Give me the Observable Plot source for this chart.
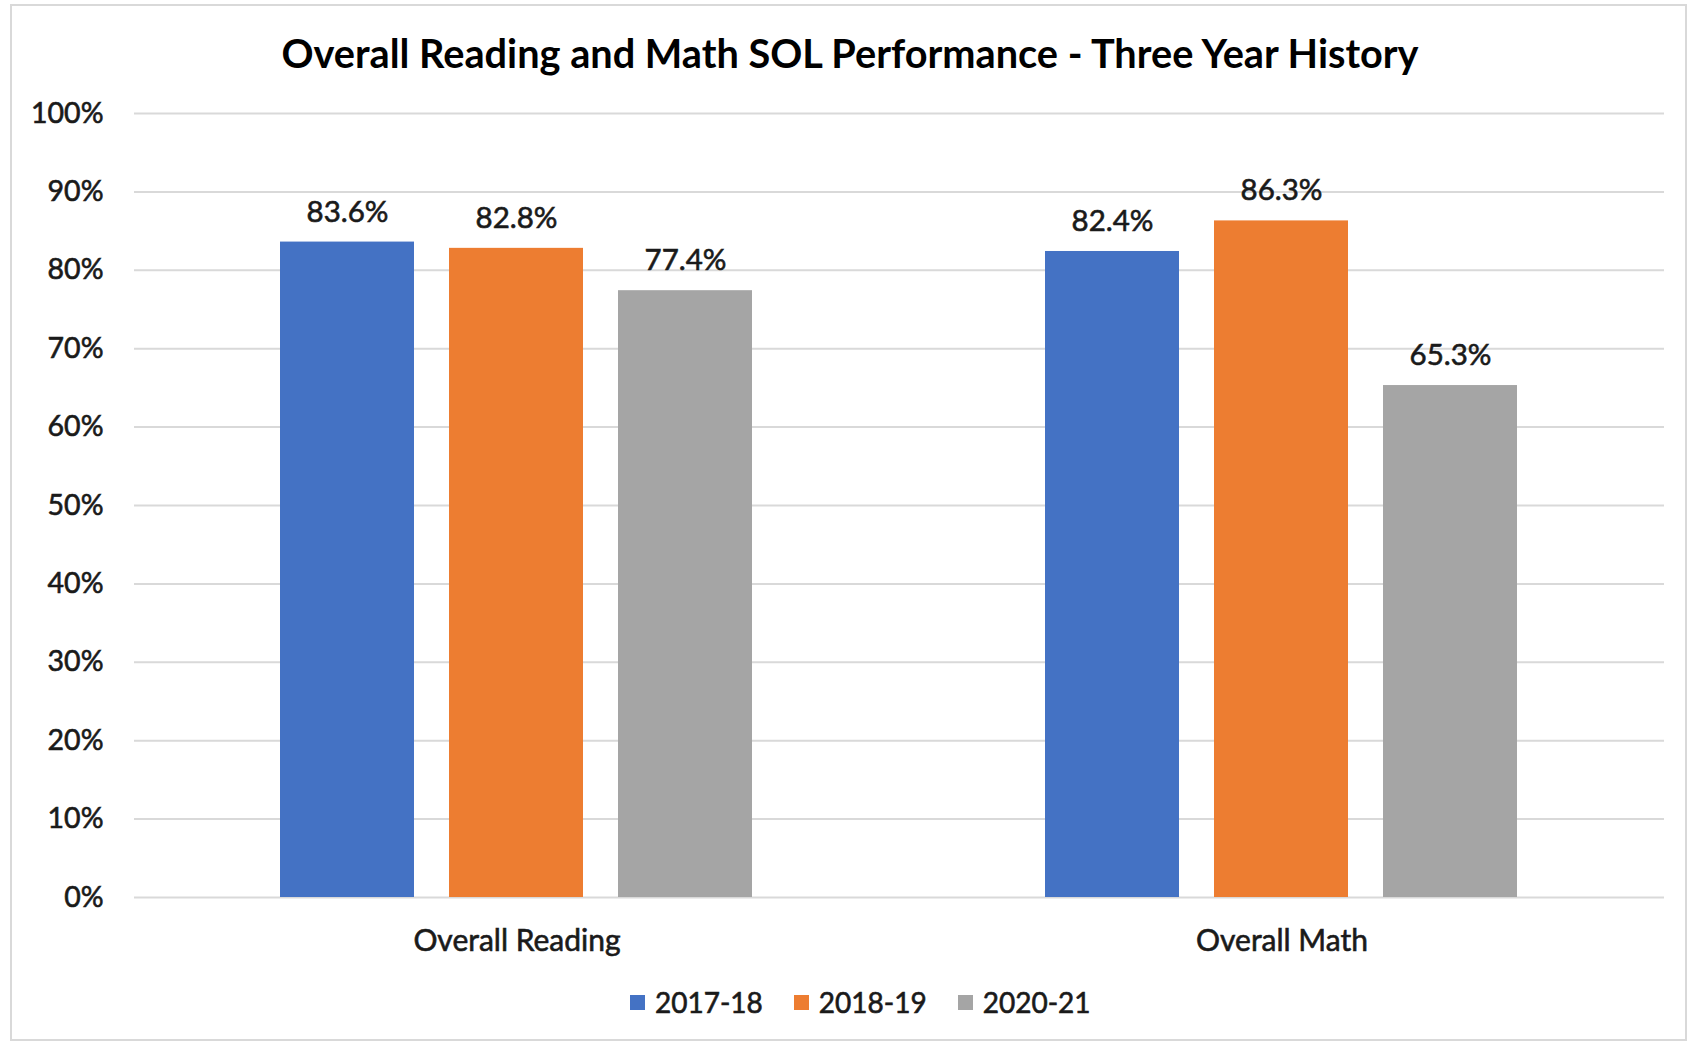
<!DOCTYPE html>
<html>
<head>
<meta charset="utf-8">
<script src="https://cdn.jsdelivr.net/npm/d3@7"></script>
<script src="https://cdn.jsdelivr.net/npm/@observablehq/plot@0.6"></script>
<style>
  html, body { margin: 0; padding: 0; background: #fff; }
  #wrap { position: relative; width: 1691px; height: 1045px; font-family: Lato, "Open Sans", sans-serif; color: #1a1a1a; }
  #frame { position: absolute; left: 10px; top: 4px; width: 1677px; height: 1037px; border: 2px solid #d9d9d9; box-sizing: border-box; }
  #title { position: absolute; left: 11px; width: 1678px; top: 29px; height: 48px; line-height: 48px; text-align: center; font-weight: bold; font-size: 39.7px; color: #000; }
  #chart { position: absolute; left: 0; top: 80px; }
  #legend { position: absolute; left: 630px; top: 984px; height: 36px; display: flex; align-items: center; font-size: 28px; color: #1a1a1a; -webkit-text-stroke: 0.6px #1a1a1a; }
  .item { display: flex; align-items: center; margin-right: 31px; }
  .sw { width: 15px; height: 15px; margin-right: 10px; }
  #chart svg text { stroke: #1a1a1a; stroke-width: 0.6px; }
</style>
</head>
<body>
<div id="wrap">
  <div id="frame"></div>
  <div id="title">Overall Reading and Math SOL Performance - Three Year History</div>
  <div id="chart"></div>
  <div id="legend"></div>
</div>
<script>
const categories = ["Overall Reading", "Overall Math"];
const years = ["2017-18", "2018-19", "2020-21"];
const values2017 = [83.6, 82.4];
const values2018 = [82.8, 86.3];
const values2020 = [77.4, 65.3];
const yTicks = [0, 10, 20, 30, 40, 50, 60, 70, 80, 90, 100];
const colors = ["#4472C4", "#ED7D31", "#A5A5A5"];

const series = [values2017, values2018, values2020];
const data = categories.flatMap((c, i) => years.map((y, j) => ({category: c, year: y, value: series[j][i]})));

const chart = Plot.plot({
  width: 1691,
  height: 880,
  marginLeft: 133,
  marginRight: 27,
  marginTop: 33,
  marginBottom: 63,
  style: {fontFamily: "Lato, 'Open Sans', sans-serif", fontSize: "28px", color: "#1a1a1a", background: "transparent"},
  fx: {domain: categories, padding: 0, label: null},
  x: {domain: years, paddingInner: 0.207, paddingOuter: 0.859, axis: null},
  y: {domain: [0, 100], label: null},
  color: {domain: years, range: colors},
  marks: [
    Plot.ruleY(yTicks, {stroke: "#d9d9d9", strokeWidth: 2}),
    Plot.barY(data, {fx: "category", x: "year", y: "value", fill: "year"}),
    Plot.text(data, {fx: "category", x: "year", y: "value", text: d => d.value.toFixed(1) + "%", dy: -30, fontSize: 29.5, fill: "#1a1a1a"}),
    Plot.axisY({ticks: yTicks, tickSize: 0, tickPadding: 31, tickFormat: d => d + "%", fontSize: 28.5, label: null}),
    Plot.axisFx({anchor: "bottom", tickSize: 0, tickPadding: 32, fontSize: 30, label: null})
  ]
});
document.getElementById("chart").appendChild(chart);

const legend = document.getElementById("legend");
years.forEach((y, j) => {
  const item = document.createElement("div");
  item.className = "item";
  const sw = document.createElement("div");
  sw.className = "sw";
  sw.style.background = colors[j];
  const t = document.createElement("span");
  t.textContent = y;
  item.appendChild(sw);
  item.appendChild(t);
  legend.appendChild(item);
});
</script>
</body>
</html>
